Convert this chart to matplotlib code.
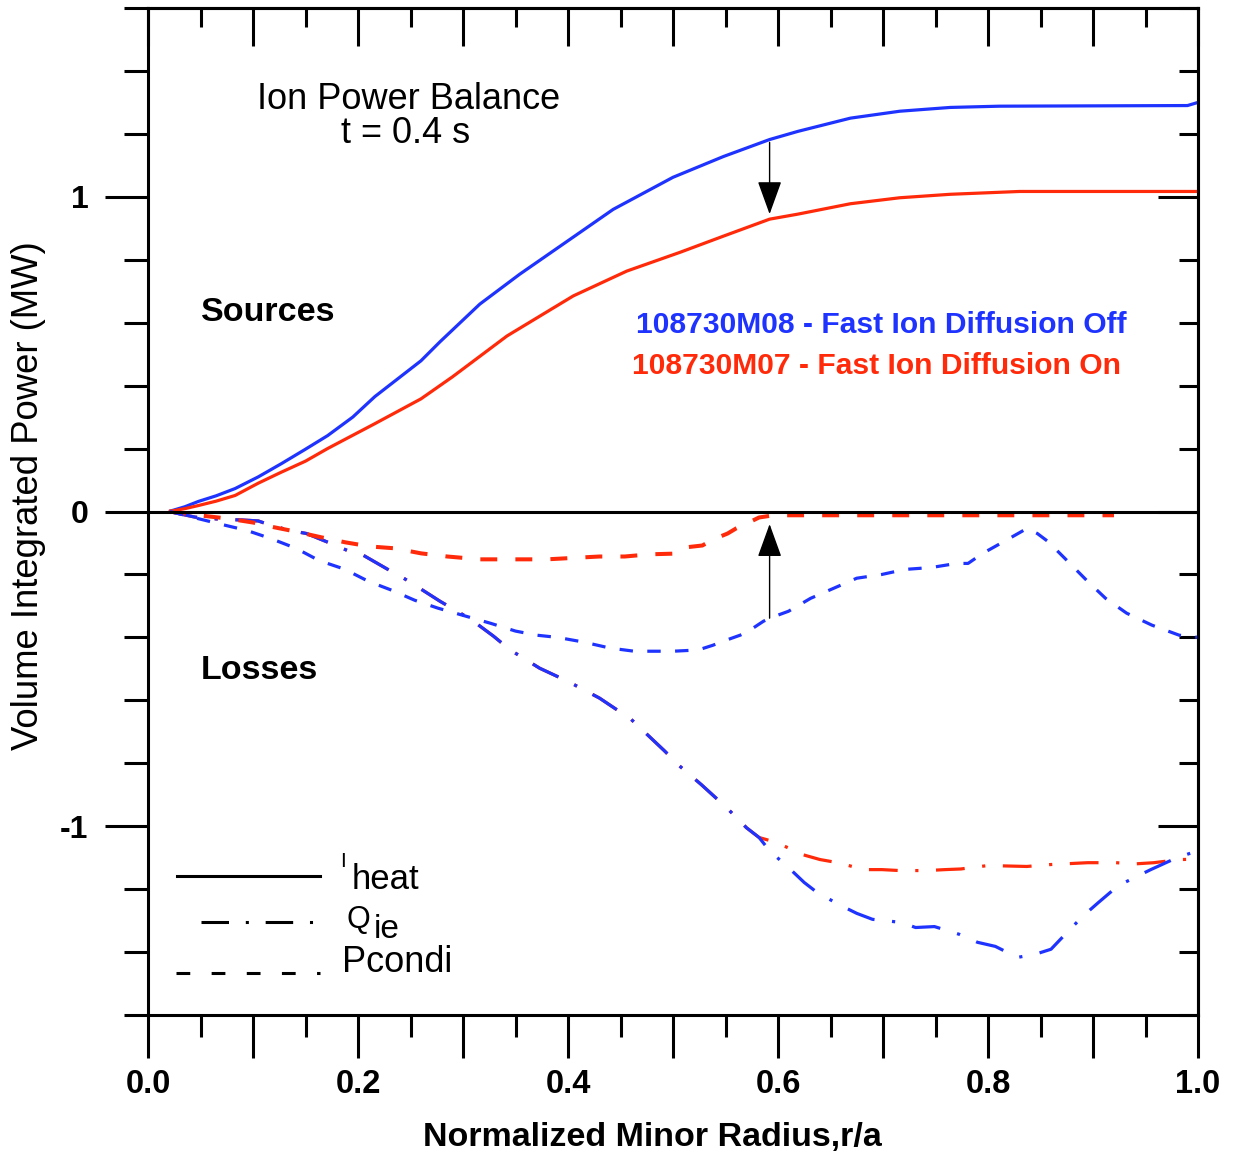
import matplotlib
matplotlib.use("Agg")
import matplotlib.pyplot as plt
from matplotlib.ticker import MultipleLocator

plt.rcParams['font.family'] = ['Liberation Sans', 'DejaVu Sans']

BLUE = '#1f33ff'
RED = '#ff2a0a'

# ---- data (r/a, MW) ----
blue_iheat_x = [0.02, 0.035, 0.048, 0.065, 0.083, 0.105, 0.127, 0.15, 0.171, 0.195, 0.216, 0.26,
                0.278, 0.316, 0.354, 0.405, 0.443, 0.5, 0.548, 0.592, 0.619, 0.669, 0.716,
                0.764, 0.811, 0.99, 1.0]
blue_iheat_y = [0.0, 0.015, 0.032, 0.05, 0.073, 0.11, 0.152, 0.198, 0.241, 0.3, 0.365, 0.479,
                0.539, 0.659, 0.754, 0.872, 0.96, 1.062, 1.128, 1.182, 1.208, 1.25, 1.272,
                1.284, 1.288, 1.29, 1.30]

red_iheat_x = [0.02, 0.035, 0.048, 0.065, 0.083, 0.105, 0.127, 0.15, 0.171, 0.216, 0.26, 0.29,
               0.342, 0.405, 0.456, 0.507, 0.548, 0.592, 0.619, 0.669, 0.716, 0.764, 0.83, 1.0]
red_iheat_y = [0.0, 0.009, 0.019, 0.033, 0.051, 0.09, 0.125, 0.16, 0.20, 0.279, 0.358, 0.428,
               0.558, 0.685, 0.764, 0.824, 0.875, 0.929, 0.945, 0.978, 0.997, 1.008, 1.017, 1.017]

blue_qie_x = [0.02, 0.045, 0.07, 0.09, 0.105, 0.118, 0.135, 0.151, 0.173, 0.19, 0.205, 0.23, 0.245,
              0.256, 0.278, 0.301, 0.31, 0.329, 0.345, 0.373, 0.4, 0.43, 0.46, 0.492, 0.506, 0.527,
              0.551, 0.57, 0.582, 0.592, 0.613, 0.625, 0.637, 0.658, 0.675, 0.69, 0.718, 0.731,
              0.749, 0.773, 0.79, 0.807, 0.828, 0.845, 0.86, 0.878, 0.891, 0.905, 0.924, 0.955,
              0.98, 1.0]
blue_qie_y = [0.0, -0.018, -0.025, -0.027, -0.03, -0.045, -0.06, -0.07, -0.10, -0.124, -0.139,
              -0.187, -0.215, -0.238, -0.285, -0.33, -0.349, -0.396, -0.44, -0.498, -0.54, -0.593,
              -0.66, -0.761, -0.808, -0.868, -0.941, -1.005, -1.036, -1.078, -1.141, -1.179, -1.21,
              -1.249, -1.277, -1.296, -1.306, -1.322, -1.319, -1.344, -1.369, -1.382, -1.417,
              -1.407, -1.391, -1.328, -1.284, -1.243, -1.189, -1.138, -1.10, -1.078]

red_qie_x = [0.02, 0.045, 0.07, 0.09, 0.105, 0.118, 0.135, 0.151, 0.173, 0.19, 0.205, 0.23, 0.245,
             0.256, 0.278, 0.301, 0.31, 0.329, 0.345, 0.373, 0.4, 0.43, 0.46, 0.492, 0.506, 0.527,
             0.551, 0.57, 0.582, 0.599, 0.623, 0.64, 0.657, 0.682, 0.699, 0.716, 0.742, 0.759,
             0.774, 0.80, 0.837, 0.859, 0.895, 0.922, 0.939, 0.958, 0.982, 1.0]
red_qie_y = [0.0, -0.018, -0.025, -0.027, -0.03, -0.045, -0.06, -0.07, -0.10, -0.124, -0.139,
             -0.187, -0.215, -0.238, -0.285, -0.33, -0.349, -0.396, -0.44, -0.498, -0.54, -0.593,
             -0.66, -0.761, -0.808, -0.868, -0.941, -1.005, -1.036, -1.052, -1.09, -1.106, -1.116,
             -1.138, -1.138, -1.141, -1.141, -1.138, -1.136, -1.125, -1.128, -1.122, -1.116,
             -1.116, -1.12, -1.116, -1.106, -1.105]

blue_pcond_x = [0.021, 0.047, 0.07, 0.094, 0.117, 0.141, 0.163, 0.187, 0.21, 0.232, 0.254, 0.276,
                0.326, 0.35, 0.37, 0.39, 0.415, 0.44, 0.463, 0.5, 0.524, 0.538, 0.548, 0.564,
                0.572, 0.586, 0.592, 0.61, 0.631, 0.653, 0.675, 0.699, 0.721, 0.746, 0.77, 0.781,
                0.795, 0.817, 0.837, 0.847, 0.857, 0.878, 0.894, 0.912, 0.932, 0.956, 0.982, 1.0]
blue_pcond_y = [0.0, -0.022, -0.041, -0.06, -0.086, -0.117, -0.156, -0.183, -0.222, -0.25, -0.282,
                -0.307, -0.355, -0.38, -0.393, -0.40, -0.415, -0.434, -0.444, -0.444, -0.44,
                -0.425, -0.412, -0.393, -0.38, -0.349, -0.339, -0.317, -0.276, -0.244, -0.212,
                -0.2, -0.184, -0.178, -0.165, -0.165, -0.133, -0.092, -0.054, -0.07, -0.095,
                -0.165, -0.219, -0.276, -0.323, -0.361, -0.393, -0.40]

red_pcond_x = [0.02, 0.048, 0.075, 0.1, 0.12, 0.141, 0.165, 0.188, 0.211, 0.235, 0.26, 0.285,
               0.316, 0.342, 0.38, 0.43, 0.454, 0.478, 0.5, 0.512, 0.528, 0.538, 0.552, 0.56,
               0.574, 0.582, 0.596, 0.7, 0.8, 0.92]
red_pcond_y = [0.0, -0.012, -0.022, -0.035, -0.05, -0.064, -0.082, -0.098, -0.111, -0.117,
               -0.133, -0.143, -0.152, -0.152, -0.152, -0.143, -0.143, -0.136, -0.134, -0.114,
               -0.108, -0.089, -0.07, -0.054, -0.032, -0.019, -0.012, -0.012, -0.012, -0.012]

arrow_x = 0.592
down_arrow = (1.173, 0.945)    # from M08 Iheat to M07 Iheat
up_arrow = (-0.339, -0.04)     # from M08 Pcondi to M07 Pcondi

lw = 2.3
dashdot = (0, (9, 5.5, 1, 5.5))
dashed = (0, (4.2, 4.5))

fig = plt.figure(figsize=(12.33, 11.57), dpi=100)
ax = fig.add_axes([148/1233, 1 - 1015/1157, 1050/1233, 1007/1157])

ax.plot(blue_iheat_x, blue_iheat_y, color=BLUE, lw=lw, solid_capstyle='butt')
ax.plot(red_iheat_x, red_iheat_y, color=RED, lw=lw, solid_capstyle='butt')
ax.plot(red_qie_x, red_qie_y, color=RED, lw=lw, linestyle=dashdot)
ax.plot(blue_qie_x, blue_qie_y, color=BLUE, lw=lw, linestyle=dashdot)
ax.plot(red_pcond_x, red_pcond_y, color=RED, lw=lw + 0.6, linestyle=dashed)
ax.plot(blue_pcond_x, blue_pcond_y, color=BLUE, lw=lw, linestyle=dashed)

ax.axhline(0, color='black', lw=2.2, zorder=3)

arrow_style = dict(arrowstyle='-|>,head_length=1.05,head_width=0.38', color='black',
                   lw=1.0, mutation_scale=20, shrinkA=0, shrinkB=0)
ax.annotate('', xy=(arrow_x, down_arrow[1]), xytext=(arrow_x, down_arrow[0]), arrowprops=arrow_style)
ax.annotate('', xy=(arrow_x, up_arrow[1]), xytext=(arrow_x, up_arrow[0]), arrowprops=arrow_style)

ax.set_xlim(0, 1)
ax.set_ylim(-1.6, 1.6)

# bottom / left ticks point out
ax.xaxis.set_minor_locator(MultipleLocator(0.05))
ax.set_xticks([0.0, 0.1, 0.2, 0.3, 0.4, 0.5, 0.6, 0.7, 0.8, 0.9, 1.0])
ax.set_xticklabels(['0.0', '', '0.2', '', '0.4', '', '0.6', '', '0.8', '', '1.0'])
ax.yaxis.set_minor_locator(MultipleLocator(0.2))
ax.set_yticks([-1, 0, 1])
ax.set_yticklabels(['-1', '0', '1'])
ax.tick_params(axis='x', which='major', direction='out', length=31, width=2.2, pad=8,
               labelsize=23.5)
ax.tick_params(axis='x', which='minor', direction='out', length=16, width=2.2)
ax.tick_params(axis='y', which='major', direction='out', length=31, width=2.2, pad=12,
               labelsize=23)
ax.tick_params(axis='y', which='minor', direction='out', length=17, width=2.2)
for lab in ax.get_xticklabels() + ax.get_yticklabels():
    lab.set_fontweight('bold')

# top / right ticks point in
top = ax.secondary_xaxis('top')
top.xaxis.set_major_locator(MultipleLocator(0.1))
top.xaxis.set_minor_locator(MultipleLocator(0.05))
top.tick_params(which='major', direction='in', length=27, width=2.2, labeltop=False)
top.tick_params(which='minor', direction='in', length=14, width=2.2)
right = ax.secondary_yaxis('right')
right.yaxis.set_major_locator(MultipleLocator(1))
right.yaxis.set_minor_locator(MultipleLocator(0.2))
right.tick_params(which='major', direction='in', length=29, width=2.2, labelright=False)
right.tick_params(which='minor', direction='in', length=14, width=2.2)

for a in (ax, top, right):
    for s in a.spines.values():
        s.set_linewidth(2.2)

ax.set_xlabel('Normalized Minor Radius,r/a', fontsize=24.5, fontweight='bold')
ax.xaxis.label.set_verticalalignment('center')
ax.xaxis.set_label_coords(0.48, -0.122)
ax.set_ylabel('Volume Integrated Power (MW)', fontsize=26.3)
ax.yaxis.label.set_verticalalignment('center')
ax.yaxis.set_label_coords(-0.114, 0.516)

ax.text(0.248, 1.31, 'Ion Power Balance', fontsize=26, ha='center', va='center')
ax.text(0.245, 1.20, 't = 0.4 s', fontsize=26, ha='center', va='center')
ax.text(0.05, 0.631, 'Sources', fontsize=24.5, fontweight='bold', ha='left', va='center')
ax.text(0.05, -0.504, 'Losses', fontsize=24.5, fontweight='bold', ha='left', va='center')
ax.text(0.465, 0.593, '108730M08 - Fast Ion Diffusion Off', fontsize=21.6, fontweight='bold',
        color=BLUE, ha='left', va='center')
ax.text(0.461, 0.463, '108730M07 - Fast Ion Diffusion On', fontsize=21.6, fontweight='bold',
        color=RED, ha='left', va='center')

# line-style key
tr = ax.transAxes
ax.plot([0.028, 0.164], [0.138, 0.138], color='black', lw=2.2, transform=tr)
ax.plot([0.05, 0.162], [0.092, 0.092], color='black', lw=2.2, linestyle=dashdot, transform=tr)
ax.plot([0.027, 0.164], [0.042, 0.042], color='black', lw=2.2, linestyle=(0, (4.5, 7)),
        transform=tr)
ax.text(0.183, 0.152, 'I', fontsize=15, ha='left', va='center', transform=tr)
ax.text(0.194, 0.135, 'heat', fontsize=25, ha='left', va='center', transform=tr)
ax.text(0.189, 0.094, 'Q', fontsize=22, ha='left', va='center', transform=tr)
ax.text(0.215, 0.085, 'ie', fontsize=24, ha='left', va='center', transform=tr)
ax.text(0.185, 0.052, 'Pcondi', fontsize=26, ha='left', va='center', transform=tr)

fig.savefig('out.png', dpi=100)
